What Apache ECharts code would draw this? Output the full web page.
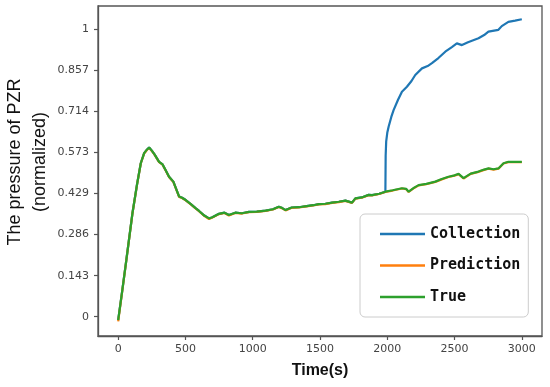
<!DOCTYPE html>
<html>
<head>
<meta charset="utf-8">
<script src="https://cdn.jsdelivr.net/npm/echarts@6/dist/echarts.min.js"></script>
<style>html,body{margin:0;padding:0;background:#fff}#c{width:550px;height:387px}</style>
</head>
<body>
<div id="c"></div>
<script>
// ---- data ----
const trueTime = [0, 30, 60, 106, 140, 168, 193, 215, 230, 250, 270, 304, 330, 350, 378, 410, 453, 475, 502, 540, 575, 601, 640, 675, 700, 749, 790, 823, 870, 920, 972, 1030, 1096, 1150, 1194, 1220, 1244, 1290, 1343, 1400, 1450, 1491, 1540, 1590, 1640, 1689, 1738, 1763, 1810, 1862, 1887, 1940, 1986, 2040, 2109, 2140, 2159, 2200, 2233, 2290, 2357, 2400, 2455, 2500, 2530, 2567, 2620, 2678, 2720, 2752, 2790, 2826, 2864, 2900, 2950, 3000];
const trueValue = [-0.012, 0.09, 0.195, 0.36, 0.46, 0.534, 0.569, 0.582, 0.589, 0.578, 0.565, 0.539, 0.53, 0.512, 0.487, 0.47, 0.418, 0.414, 0.406, 0.392, 0.378, 0.368, 0.352, 0.342, 0.346, 0.358, 0.362, 0.354, 0.362, 0.36, 0.365, 0.366, 0.369, 0.374, 0.383, 0.378, 0.371, 0.38, 0.381, 0.385, 0.388, 0.392, 0.393, 0.397, 0.4, 0.404, 0.397, 0.412, 0.415, 0.424, 0.423, 0.428, 0.435, 0.44, 0.447, 0.445, 0.435, 0.449, 0.458, 0.462, 0.47, 0.478, 0.487, 0.492, 0.497, 0.482, 0.498, 0.505, 0.512, 0.516, 0.513, 0.516, 0.534, 0.539, 0.539, 0.539];
const predictionValue = [-0.016, 0.088, 0.194, 0.359, 0.459, 0.533, 0.568, 0.581, 0.587, 0.577, 0.564, 0.538, 0.529, 0.511, 0.486, 0.469, 0.417, 0.413, 0.405, 0.391, 0.377, 0.367, 0.351, 0.34, 0.345, 0.357, 0.361, 0.352, 0.361, 0.359, 0.364, 0.365, 0.368, 0.373, 0.382, 0.377, 0.37, 0.379, 0.38, 0.384, 0.387, 0.391, 0.392, 0.396, 0.399, 0.403, 0.396, 0.411, 0.414, 0.423, 0.422, 0.427, 0.434, 0.439, 0.446, 0.444, 0.434, 0.448, 0.457, 0.461, 0.469, 0.477, 0.486, 0.491, 0.496, 0.481, 0.497, 0.504, 0.511, 0.515, 0.512, 0.515, 0.533, 0.538, 0.538, 0.538];
// Collection follows the true curve up to t = 1986 s, then jumps
const collectionJumpTime = [1988, 1992, 2000, 2010, 2030, 2047, 2080, 2109, 2146, 2180, 2208, 2258, 2300, 2332, 2380, 2431, 2480, 2517, 2555, 2600, 2678, 2720, 2752, 2826, 2851, 2900, 2950, 3000];
const collectionJumpValue = [0.56, 0.61, 0.64, 0.661, 0.695, 0.719, 0.755, 0.783, 0.8, 0.82, 0.841, 0.864, 0.872, 0.882, 0.9, 0.922, 0.938, 0.951, 0.945, 0.955, 0.969, 0.98, 0.992, 0.998, 1.011, 1.026, 1.03, 1.035];
const xTickValues = [0, 500, 1000, 1500, 2000, 2500, 3000];
const xTickLabels = ['0', '500', '1000', '1500', '2000', '2500', '3000'];
const yTickValues = [0, 1/7, 2/7, 3/7, 4/7, 5/7, 6/7, 1];
const yTickLabels = ['0', '0.143', '0.286', '0.429', '0.573', '0.714', '0.857', '1'];
const seriesNames = ['Collection', 'Prediction', 'True'];
const seriesColors = ['#1f77b4', '#ff7f0e', '#2ca02c'];

// ---- build ----
const pairs = (ts, vs) => ts.map((t, i) => [t, vs[i]]);
const truePts = pairs(trueTime, trueValue);
const predPts = pairs(trueTime, predictionValue);
const collPts = truePts.filter(p => p[0] <= 1986).concat(pairs(collectionJumpTime, collectionJumpValue));

function labelFor(values, labels) {
  return v => {
    let best = 0;
    for (let i = 1; i < values.length; i++) if (Math.abs(values[i] - v) < Math.abs(values[best] - v)) best = i;
    return labels[best];
  };
}

const tickFont = {fontFamily: 'DejaVu Sans', fontSize: 11, color: '#444'};
const chart = echarts.init(document.getElementById('c'), null, {renderer: 'canvas'});
chart.setOption({
  animation: false,
  backgroundColor: '#fff',
  grid: {left: 98, top: 6, right: 8, bottom: 51, show: true, borderColor: '#555', borderWidth: 1.3, backgroundColor: 'transparent'},
  xAxis: {
    type: 'value', min: -150, max: 3150,
    name: 'Time(s)', nameLocation: 'middle', nameGap: 27,
    nameTextStyle: {fontFamily: 'Liberation Sans', fontSize: 16, fontWeight: 'bold', color: '#111'},
    axisLine: {show: true, onZero: false, lineStyle: {color: '#555', width: 1.3}},
    splitLine: {show: false},
    axisTick: {show: true, inside: false, length: 4, lineStyle: {color: '#555', width: 1.2}, customValues: xTickValues},
    axisLabel: Object.assign({margin: 8, customValues: xTickValues, formatter: labelFor(xTickValues, xTickLabels)}, tickFont)
  },
  yAxis: {
    type: 'value', min: -0.067, max: 1.081,
    axisLine: {show: true, onZero: false, lineStyle: {color: '#555', width: 1.3}},
    splitLine: {show: false},
    axisTick: {show: true, inside: false, length: 4, lineStyle: {color: '#555', width: 1.2}, customValues: yTickValues},
    axisLabel: Object.assign({margin: 9, customValues: yTickValues, formatter: labelFor(yTickValues, yTickLabels)}, tickFont)
  },
  graphic: [{
    type: 'text', x: 28, y: 162, rotation: Math.PI / 2,
    style: {text: 'The pressure of PZR\n(normalized)', fontFamily: 'Liberation Sans', fontSize: 18, lineHeight: 25,
      fill: '#111', align: 'center', verticalAlign: 'middle'}
  }],
  legend: {
    orient: 'vertical', left: 360, top: 214,
    padding: [11, 8, 11, 20], itemGap: 13.5,
    itemWidth: 45, itemHeight: 2.5, icon: 'rect',
    backgroundColor: '#fff', borderColor: '#ccc', borderWidth: 1, borderRadius: 5,
    textStyle: {fontFamily: 'DejaVu Sans Mono', fontSize: 15, fontWeight: 'bold', color: '#111', lineHeight: 18},
    data: seriesNames
  },
  series: [
    {name: seriesNames[0], type: 'line', data: collPts, showSymbol: false, symbol: 'none', lineStyle: {width: 2.2, color: seriesColors[0]}, itemStyle: {color: seriesColors[0]}, z: 2},
    {name: seriesNames[1], type: 'line', data: predPts, showSymbol: false, symbol: 'none', lineStyle: {width: 2.2, color: seriesColors[1]}, itemStyle: {color: seriesColors[1]}, z: 3},
    {name: seriesNames[2], type: 'line', data: truePts, showSymbol: false, symbol: 'none', lineStyle: {width: 2.2, color: seriesColors[2]}, itemStyle: {color: seriesColors[2]}, z: 4}
  ]
});
</script>
</body>
</html>
